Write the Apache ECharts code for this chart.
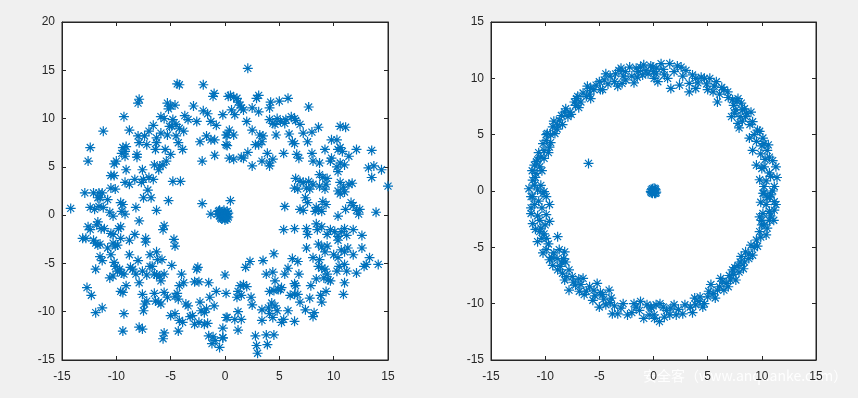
<!DOCTYPE html>
<html style="height:100%;width:100%;">
<head>
  <meta charset="utf-8">
  <title>scatter rings</title>
  <script src="https://cdn.jsdelivr.net/npm/echarts@6/dist/echarts.min.js"></script>
</head>
<body style="margin:0px;height:100%;width:100%;background:#f0f0f0;">
  <div id="main" style="width:858px;height:398px"></div>
  <script type="text/javascript" charset="utf-8">
    // ticks
    var xTicks = [-15, -10, -5, 0, 5, 10, 15];
    var leftYTicks = [-15, -10, -5, 0, 5, 10, 15, 20];
    var rightYTicks = [-15, -10, -5, 0, 5, 10, 15];

    // left plot: scattered ring
    var leftRing = [
      [-4.4,13.6],[-4.2,13.5],[-2.0,13.5],[-1.0,12.6],[-1.1,12.3],[-7.9,12.0],[-8.0,11.6],[-5.3,11.6],[-5.0,11.3],[-4.6,11.4],
      [-5.2,11.0],[-2.9,11.3],[-2.0,10.8],[-1.6,10.5],[0.3,12.3],[-0.2,10.4],[-9.3,10.2],[-5.9,10.2],[-5.6,10.0],[-4.8,9.9],
      [-4.5,9.4],[-4.2,9.0],[-4.9,9.2],[-3.7,10.3],[-3.4,9.9],[-2.6,9.7],[-1.3,9.7],[-0.8,9.3],[-11.2,8.7],[-8.8,8.8],
      [-8.0,8.2],[-7.4,8.2],[-7.0,8.7],[-6.6,9.3],[-6.3,8.0],[-5.9,8.5],[-5.3,8.3],[-5.1,9.2],[-4.5,8.2],[-4.3,7.5],
      [-3.8,8.7],[-2.3,7.6],[-1.7,8.2],[-1.3,7.8],[-0.95,7.8],[0.1,8.3],[0.1,7.3],[-12.4,7.0],[-9.4,7.0],[-9.1,7.1],
      [-9.5,6.4],[-9.2,6.6],[-9.2,6.1],[-7.9,7.5],[-7.2,7.3],[-8.1,6.3],[-8.1,6.0],[-6.4,6.8],[-6.3,7.5],[-5.5,6.8],
      [-5.0,6.3],[-3.9,6.8],[-0.95,6.2],[-12.6,5.6],[-10.2,5.3],[-10.0,5.6],[-9.1,4.7],[-7.6,4.7],[-6.5,5.2],[-6.0,5.1],
      [-5.7,5.2],[-5.4,5.6],[-6.1,4.7],[-2.1,5.6],[0.4,5.9],[-10.5,4.1],[-10.2,4.1],[-9.2,3.4],[-8.8,3.2],[-8.3,3.7],
      [-7.7,3.4],[-7.5,3.7],[-7.0,3.9],[-6.6,3.7],[-4.8,3.5],[-4.1,3.5],[-10.5,2.8],[-10.1,2.7],[-12.9,2.3],[-12.1,2.3],
      [-11.6,2.3],[-11.3,2.3],[-11.7,1.8],[-11.5,1.8],[-10.8,1.6],[-7.1,2.6],[-7.5,1.8],[-6.8,1.8],[-5.2,1.5],[-2.1,1.2],
      [-9.6,1.3],[-9.4,1.1],[-12.4,0.8],[-12.0,0.6],[-11.6,0.9],[-11.2,0.8],[-14.2,0.7],[-10.6,0.3],[-10.3,-0.1],[-9.5,0.4],
      [-9.2,0.1],[-8.2,0.8],[-6.3,0.5],[-1.3,0.1],
      [-12.6,-1.2],[-12.4,-1.5],[-11.7,-0.7],[-11.8,-1.0],[-11.4,-1.4],[-11.1,-1.4],[-9.8,-1.4],[-9.6,-1.2],[-10.5,-1.9],[-10.3,-2.0],
      [-7.9,-0.6],[-5.6,-1.1],[-5.7,-1.5],[-13.1,-2.4],[-12.8,-2.4],[-12.1,-2.6],[-11.9,-2.9],[-11.7,-3.1],[-11.5,-3.0],[-10.8,-3.4],
      [-10.3,-2.9],[-10.1,-3.2],[-9.9,-3.1],[-9.6,-2.4],[-8.8,-2.6],[-8.3,-2.0],[-7.3,-2.4],[-7.3,-2.8],[-4.7,-2.5],[-4.6,-3.2],
      [-11.5,-4.3],[-11.3,-4.7],[-10.5,-4.1],[-8.8,-4.1],[-8.0,-4.7],[-10.2,-4.9],[-10.1,-5.3],[-6.9,-4.1],[-6.7,-5.3],[-6.3,-3.8],
      [-6.2,-4.6],[-5.8,-4.6],[-11.9,-5.6],[-10.6,-6.5],[-10.3,-6.3],[-9.9,-5.8],[-9.7,-5.6],[-9.5,-6.0],[-9.3,-6.1],[-8.7,-5.4],
      [-8.5,-5.6],[-8.2,-6.1],[-7.9,-7.0],[-7.6,-5.8],[-7.2,-6.2],[-6.9,-5.3],[-6.5,-6.1],[-6.3,-6.2],[-6.0,-6.3],[-5.6,-6.1],
      [-5.9,-6.8],[-4.9,-5.2],[-4.0,-6.1],[-4.2,-7.3],[-3.8,-7.0],[-2.6,-5.6],[-2.5,-5.4],[-2.8,-6.9],[-2.4,-6.9],[-1.5,-7.0],
      [0.0,-6.2],[-12.7,-7.5],[-12.3,-8.3],[-9.6,-7.9],[-9.4,-8.0],[-9.1,-7.3],[-7.4,-9.2],[-7.2,-8.9],[-7.6,-8.2],[-7.5,-9.9],
      [-6.5,-8.1],[-6.4,-8.9],[-6.1,-9.0],[-5.9,-9.2],[-5.6,-8.0],[-5.3,-8.5],[-4.6,-8.4],[-4.4,-8.1],[-4.3,-8.7],[-3.6,-9.2],
      [-3.4,-9.4],[-5.0,-10.4],[-4.6,-10.2],[-4.2,-10.9],[-3.9,-11.1],[-3.2,-10.5],[-3.0,-10.4],[-2.3,-9.0],[-2.2,-9.9],[-1.7,-9.7],
      [-1.9,-10.1],[-1.4,-8.5],[-0.8,-7.9],[-1.0,-9.4],[-2.8,-11.3],[-2.4,-11.1],[-1.9,-11.3],[-1.6,-11.2],[0.1,-10.6],[-11.9,-10.1],
      [-11.3,-9.6],[-9.3,-10.2],[-9.4,-12.0],[-7.9,-11.6],[-7.6,-11.8],[-5.6,-12.2],[-5.7,-12.8],[-4.3,-12.0],[-1.5,-12.5],[-1.1,-12.6],
      [-0.9,-13.0],[-1.2,-13.3],[-0.2,-12.7],[-0.5,-13.7],
      [2.1,15.2],[0.5,12.4],[0.8,12.2],[1.1,12.1],[1.2,11.7],[1.4,11.4],[1.5,11.1],[1.7,10.9],[2.9,12.1],[3.1,12.4],
      [4.2,11.7],[5.0,11.8],[5.8,12.1],[4.1,11.1],[0.6,10.9],[0.9,10.4],[2.5,11.1],[3.1,10.7],[7.7,11.2],[2.0,9.7],
      [2.5,8.8],[4.1,9.9],[4.4,9.5],[4.8,10.0],[5.1,9.7],[5.6,9.9],[6.1,10.2],[6.4,10.0],[6.5,9.8],[4.6,9.4],
      [5.5,9.5],[6.9,9.4],[8.6,9.1],[10.6,9.2],[11.1,9.1],[0.4,8.8],[0.2,8.3],[0.8,8.3],[0.2,7.2],[3.2,8.3],
      [3.5,8.2],[2.8,7.3],[3.1,7.3],[3.4,7.6],[4.7,8.3],[5.9,8.4],[6.2,7.6],[6.4,7.4],[7.2,8.5],[7.6,7.6],
      [8.0,8.6],[9.8,7.8],[10.3,7.8],[10.4,6.8],[10.6,7.0],[10.8,6.6],[9.2,6.8],[12.1,6.8],[13.5,6.7],[2.1,6.5],
      [3.9,6.4],[5.4,6.4],[6.6,6.3],[6.8,5.9],[8.0,6.4],[8.1,5.6],[0.8,5.8],[1.5,6.0],[1.7,5.9],[2.5,5.1],
      [3.4,5.6],[4.1,5.4],[4.4,5.8],[4.1,5.1],[8.7,5.4],[9.7,5.6],[9.8,5.9],[10.3,5.0],[10.6,5.4],[11.0,5.2],
      [11.4,6.1],[13.2,4.9],[13.7,5.1],[14.4,4.7],[13.5,3.9],[10.4,4.5],[8.7,4.2],[9.0,3.9],[9.4,3.8],[6.5,3.8],
      [6.9,3.5],[7.2,3.4],[7.7,3.5],[8.1,3.2],[6.4,2.8],[6.7,2.7],[7.5,2.8],[7.8,2.7],[8.7,3.0],[9.2,2.7],
      [9.3,3.2],[10.6,3.4],[10.9,2.9],[11.4,3.2],[11.7,3.3],[10.4,2.5],[10.6,2.2],[11.0,2.4],[15.0,3.0],[0.5,1.5],
      [7.4,1.8],[7.6,1.3],[9.0,1.4],[9.3,1.1],[8.6,0.6],[8.9,0.4],[8.3,0.4],[8.4,0.8],[6.9,0.6],[7.2,0.5],
      [5.5,0.9],[10.4,-0.1],[11.6,1.3],[11.8,1.0],[12.1,0.5],[12.4,0.6],[12.3,0.1],[13.9,0.3],[11.1,0.6],
      [5.4,-1.5],[6.4,-1.4],[7.5,-1.4],[7.6,-2.0],[8.4,-0.9],[8.5,-1.5],[8.9,-1.2],[9.4,-2.0],[9.7,-1.5],[10.1,-1.7],
      [10.4,-2.2],[10.4,-2.6],[10.7,-1.7],[11.0,-1.4],[11.2,-2.1],[11.8,-1.5],[12.6,-2.1],[7.5,-3.4],[8.6,-3.0],[8.9,-3.3],
      [9.4,-3.2],[9.2,-3.8],[10.0,-4.1],[10.4,-4.4],[10.7,-3.6],[11.0,-3.8],[11.3,-3.4],[11.8,-4.1],[12.6,-3.4],[13.3,-4.4],
      [14.1,-5.1],[12.8,-5.3],[13.0,-5.1],[12.1,-6.0],[11.2,-5.8],[11.0,-5.1],[10.3,-5.8],[10.5,-5.3],[8.1,-4.4],[8.7,-4.6],
      [8.9,-5.5],[8.6,-5.3],[8.4,-6.6],[9.2,-5.6],[9.4,-6.1],[9.5,-6.7],[9.7,-6.8],[9.1,-6.5],[11.0,-7.0],[10.9,-8.2],
      [9.3,-7.9],[8.8,-8.3],[8.9,-9.0],[6.2,-4.5],[6.7,-4.8],[5.8,-5.5],[5.5,-6.1],[6.8,-6.1],[4.5,-4.0],[3.5,-4.7],
      [2.3,-4.8],[1.9,-5.4],[3.8,-6.1],[4.4,-5.9],[4.6,-6.8],[5.1,-7.7],[5.2,-7.5],[6.4,-7.1],[6.5,-7.3],[6.4,-8.2],
      [7.9,-7.3],[6.0,-8.3],[6.7,-8.2],[6.9,-9.0],[7.4,-9.8],[7.8,-8.6],[8.2,-10.1],[8.1,-10.5],[1.4,-7.3],[1.7,-7.2],
      [2.0,-7.4],[1.2,-7.9],[1.5,-8.3],[2.4,-8.5],[0.1,-8.1],[1.1,-8.5],[2.5,-9.3],[4.1,-7.9],[4.5,-7.8],[4.9,-7.7],
      [3.4,-9.8],[4.0,-9.6],[4.3,-9.1],[4.6,-9.4],[4.8,-9.9],[4.1,-10.2],[4.4,-10.6],[5.2,-11.1],[5.4,-10.8],[5.8,-9.9],
      [6.4,-11.0],[1.2,-10.0],[0.2,-10.6],[0.9,-10.8],[1.5,-10.8],[3.4,-10.9],[-0.2,-11.7],[-0.2,-12.7],[1.2,-11.9],[2.8,-12.5],
      [2.9,-13.5],[3.0,-14.3],[3.8,-12.4],[4.5,-12.4],[3.9,-13.4]
    ];
    var leftCenter = [
      [-0.2,0],[0,0.3],[-0.4,0.2],[0.1,-0.3],[-0.3,-0.4],[0.2,0.1],[-0.5,-0.1],[0,-0.5],[-0.1,0.5],[0.3,-0.2],
      [-0.6,0.4],[0.2,0.4],[-0.4,-0.3],[0.1,0.1],[-0.3,0.1],[0.3,0.2],[-0.2,-0.2],[0.0,-0.2],[-0.7,0.1],[-0.5,0.5],[0.2,-0.4]
    ];

    // right plot: tight ring, centre blob and one stray point
    var rightRing = [
      [-2.2,11.0],[-1.6,10.9],[-1.2,11.0],[-0.7,10.7],[-0.25,11.1],[0.06,10.0],[-1.0,10.3],[-1.5,10.1],[-1.8,9.6],[-2.55,9.85],
      [-2.9,9.55],[-3.5,10.4],[-3.3,9.3],[-3.2,10.7],[-4.4,10.4],[-4.55,9.85],[-4.7,9.0],[-5.3,9.4],[-5.8,9.1],[-6.1,9.3],
      [-5.8,8.2],[-6.2,8.4],[-7.0,8.4],[-7.3,7.9],[-7.2,7.6],[-8.1,7.3],[-8.2,7.0],[-7.9,6.6],[-8.7,6.3],[-8.85,5.85],
      [-9.3,5.7],[-9.5,5.0],[-9.8,5.1],[-9.9,4.5],[-9.6,3.9],[-10.1,3.6],[-10.4,3.0],[-10.7,2.75],[-10.5,2.15],[-11.0,2.3],
      [-10.85,1.56],[-11.15,0.97],[-11.0,0.53],[-10.7,0.09],[-10.1,-0.06],[-11.15,-0.5],
      [-0.06,11.0],[0.7,11.3],[1.5,11.3],[0.24,10.4],[0.4,9.7],[1.0,10.3],[1.6,9.1],[2.55,11.0],[3.0,10.7],[2.4,9.4],
      [3.3,9.55],[3.3,8.8],[3.9,10.0],[4.4,10.1],[4.7,10.0],[3.9,9.1],[5.0,9.0],[5.5,8.8],[5.8,9.7],[5.9,7.9],
      [6.5,9.0],[6.85,8.8],[7.3,8.1],[7.8,8.2],[8.1,7.8],[8.4,7.3],[7.2,6.6],[7.5,6.9],[7.8,6.0],[7.9,5.6],
      [8.5,6.6],[9.0,7.0],[9.15,6.15],[9.6,5.4],[8.85,4.7],[10.1,4.7],[10.2,4.2],[9.15,3.6],[10.5,3.6],[10.7,3.0],
      [9.5,2.3],[10.2,2.15],[11.3,2.15],[10.8,1.3],[9.8,1.0],[10.2,0.4],[11.15,0.4],[10.7,-0.5],[10.1,-0.2],
      [-11.3,-0.5],[-10.2,-0.2],[-9.9,-0.5],[-11.0,-1.2],[-9.6,-1.2],[-11.3,-2.0],[-9.9,-2.1],[-11.15,-2.9],[-10.5,-2.6],[-9.6,-2.7],
      [-10.5,-3.6],[-10.1,-3.8],[-9.9,-4.2],[-10.7,-4.5],[-8.85,-4.05],[-10.2,-5.5],[-9.9,-5.2],[-8.7,-5.2],[-8.2,-5.4],[-9.6,-6.1],
      [-9.3,-6.6],[-8.5,-6.3],[-8.1,-6.3],[-8.85,-7.0],[-8.4,-7.3],[-8.2,-7.9],[-7.5,-7.6],[-7.2,-8.35],[-6.5,-7.75],[-7.8,-8.8],
      [-6.85,-8.9],[-6.4,-9.2],[-5.5,-8.8],[-5.2,-8.2],[-5.6,-9.7],[-4.7,-9.2],[-4.1,-8.8],[-3.9,-9.5],[-5.0,-10.3],[-4.4,-10.1],
      [-3.8,-10.9],[-3.0,-10.4],[-2.4,-11.0],[-1.8,-10.0],[-1.2,-9.8],[-1.3,-10.6],[-0.9,-11.3],[-0.25,-10.3],[0.06,-11.0],
      [10.2,-0.2],[10.8,-0.35],[11.15,-0.95],[10.4,-1.2],[10.1,-2.0],[9.8,-2.3],[10.7,-1.8],[11.15,-1.7],[10.7,-2.6],[10.2,-3.0],
      [9.8,-3.6],[10.4,-3.9],[9.5,-4.35],[9.0,-4.8],[9.6,-4.9],[8.5,-5.4],[9.15,-5.7],[8.1,-5.8],[8.4,-6.3],[7.8,-6.6],
      [7.3,-7.0],[7.9,-7.2],[7.0,-7.5],[7.6,-7.9],[6.2,-7.75],[6.7,-8.2],[6.1,-8.5],[6.5,-8.8],[5.3,-8.3],[5.5,-9.1],
      [5.0,-9.4],[4.2,-9.8],[4.55,-10.3],[3.8,-9.5],[3.9,-10.1],[2.9,-10.1],[2.7,-10.9],[1.9,-10.1],[1.6,-10.4],[1.5,-11.0],
      [0.9,-10.3],[0.24,-10.1],[0.09,-11.3],[0.55,-11.6],[-0.2,-10.4]
    ];
    // stars hidden inside the dense parts of the band
    var rightBand = [
      [-2.6,10.6],[-2.0,10.2],[-1.4,10.6],[-0.5,10.4],[0.3,10.9],[0.9,10.8],[1.3,10.0],[1.9,10.6],[2.2,11.1],[2.7,10.2],
      [-0.9,11.2],[0.0,10.6],[3.6,10.3],[4.1,9.6],[4.9,9.5],[5.2,10.0],[5.6,9.3],[6.1,8.6],[6.3,9.2],[6.9,8.3],
      [7.4,7.6],[7.7,8.0],[8.2,7.2],[7.6,7.2],[8.0,6.6],[8.6,6.9],[8.2,6.2],[8.9,5.9],[9.3,5.0],[9.8,5.3],
      [9.5,4.4],[10.0,4.0],[9.9,3.3],[10.6,4.1],[10.3,2.8],[11.0,2.7],[10.0,2.0],[10.7,1.6],[11.4,1.2],[10.4,0.9],
      [11.0,0.0],[10.5,-0.6],[9.9,-1.0],[11.3,-1.2],[10.8,-2.2],[10.0,-2.6],[11.1,-2.6],[10.5,-3.3],[9.9,-4.1],[10.0,-3.0],
      [9.3,-5.0],[8.8,-5.6],[8.8,-6.0],[8.0,-6.3],[8.3,-6.9],[7.5,-6.8],[7.1,-7.9],[7.4,-7.4],[6.4,-8.0],[6.9,-8.5],
      [5.9,-8.8],[5.7,-9.5],[5.1,-8.9],[4.7,-10.0],[4.3,-9.4],[3.4,-10.3],[3.6,-10.8],[2.3,-10.5],[2.1,-11.0],[1.2,-10.6],
      [0.6,-10.0],[1.0,-11.2],[-0.4,-11.0],[-0.6,-10.1],[-1.6,-10.3],[-2.0,-10.8],[-2.8,-10.0],[-3.3,-10.9],[-3.6,-10.2],[-4.0,-9.9],
      [-4.6,-9.6],[-4.9,-9.0],[-5.4,-9.3],[-5.9,-8.5],[-6.2,-8.9],[-6.7,-8.3],[-6.9,-7.8],[-7.4,-8.1],[-7.8,-7.0],[-8.0,-7.6],
      [-8.6,-6.7],[-8.3,-6.0],[-8.9,-6.0],[-9.2,-5.5],[-9.4,-5.9],[-9.7,-4.7],[-10.3,-4.2],[-10.4,-3.3],[-10.9,-3.4],[-10.0,-3.0],
      [-10.7,-2.2],[-10.3,-1.5],[-11.3,-1.5],[-10.6,-0.9],[-11.5,0.2],[-10.4,0.5],[-10.9,1.2],[-11.2,1.8],[-10.3,1.8],[-10.8,2.6],
      [-10.1,2.9],[-10.6,3.4],[-9.7,3.4],[-10.2,4.2],[-9.5,4.3],[-9.9,5.0],[-9.1,5.1],[-8.9,5.5],[-9.2,6.2],[-8.4,5.9],
      [-8.5,6.7],[-7.7,7.0],[-7.6,6.8],[-7.1,8.2],[-6.7,7.9],[-6.9,7.4],[-6.5,8.7],[-5.9,8.6],[-5.5,9.0],[-5.0,9.7],
      [-4.9,9.0],[-4.2,9.5],[-4.0,10.2],[-3.6,9.7],[-2.8,10.2],[-3.0,10.9]
    ];
    var rightCenter = [
      [0,0],[0.2,0.1],[-0.2,0.1],[0.1,-0.2],[-0.1,-0.2],[0.25,-0.1],[-0.25,-0.05],[0.05,0.25],[-0.1,0.2],[0.15,0.2],[-0.2,-0.15],[0.2,-0.2]
    ];
    var rightStray = [[-6.0,2.45]];

    var starPath = 'path://M0 5L10 5M5 0L5 10M1.5 1.5L8.5 8.5M8.5 1.5L1.5 8.5';
    var blue = '#0072BD';
    var axisColor = '#262626';
    var labelFont = {color: axisColor, fontSize: 12, fontFamily: 'Liberation Sans'};

    function mainX(grid) {
      return {
        gridIndex: grid, type: 'value', min: -15, max: 15, interval: 5,
        axisLine: {show: true, onZero: false, lineStyle: {color: axisColor}},
        axisTick: {inside: true, length: 4, lineStyle: {color: axisColor}},
        axisLabel: Object.assign({margin: 11}, labelFont),
        splitLine: {show: false}
      };
    }
    function mainY(grid, minV, maxV) {
      return {
        gridIndex: grid, type: 'value', min: minV, max: maxV, interval: 5,
        axisLine: {show: true, onZero: false, lineStyle: {color: axisColor}},
        axisTick: {inside: true, length: 4, lineStyle: {color: axisColor}},
        axisLabel: Object.assign({margin: 7}, labelFont),
        splitLine: {show: false}
      };
    }
    function mirror(axis, pos) {
      var a = Object.assign({}, axis);
      a.position = pos;
      a.axisLabel = {show: false};
      return a;
    }

    var myChart = echarts.init(document.getElementById('main'));
    var option = {
      backgroundColor: '#f0f0f0',
      animation: false,
      grid: [
        {left: 62, top: 22, width: 326, height: 338, show: true, backgroundColor: '#fff', borderColor: axisColor, borderWidth: 1},
        {left: 491, top: 22, width: 325, height: 338, show: true, backgroundColor: '#fff', borderColor: axisColor, borderWidth: 1}
      ],
      xAxis: [
        mainX(0), mirror(mainX(0), 'top'),
        mainX(1), mirror(mainX(1), 'top')
      ],
      yAxis: [
        mainY(0, -15, 20), mirror(mainY(0, -15, 20), 'right'),
        mainY(1, -15, 15), mirror(mainY(1, -15, 15), 'right')
      ],
      series: [
        {type: 'scatter', xAxisIndex: 0, yAxisIndex: 0, data: leftRing.concat(leftCenter)},
        {type: 'scatter', xAxisIndex: 2, yAxisIndex: 2, data: rightRing.concat(rightBand, rightCenter, rightStray)}
      ].map(function (s) {
        s.symbol = starPath;
        s.symbolSize = 10;
        s.itemStyle = {color: 'none', borderColor: blue, borderWidth: 1.2, opacity: 1};
        s.emphasis = {disabled: true};
        return s;
      }),
      graphic: [{
        type: 'text', left: 643, top: 369,
        style: {text: '安全客（www.anquanke.com）', fill: 'rgba(255,255,255,0.92)', font: '14px "Noto Sans CJK SC"'}
      }]
    };
    myChart.setOption(option);
  </script>
</body>
</html>
